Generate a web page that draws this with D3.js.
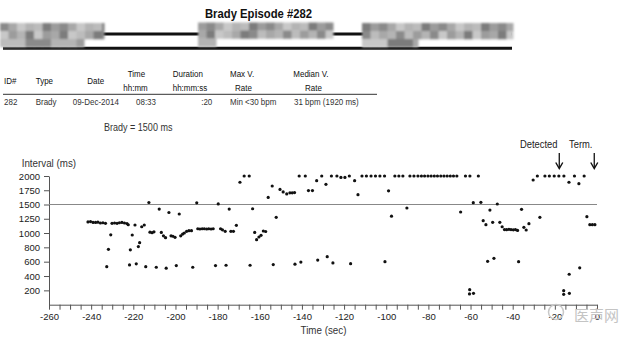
<!DOCTYPE html>
<html><head><meta charset="utf-8">
<script src="https://cdn.jsdelivr.net/npm/d3@7"></script>
<style>body{margin:0;background:#fff}svg{display:block}</style>
</head><body>
<script>
// ---------------- data ----------------
const chartTitle = "Brady Episode #282";
const tableHeaders = [["ID#"],["Type"],["Date"],["Time","hh:mm"],["Duration","hh:mm:ss"],["Max V.","Rate"],["Median V.","Rate"]];
const tableValues = ["282","Brady","09-Dec-2014","08:33",":20","Min <30 bpm","31 bpm (1920 ms)"];
const bradyLabel = "Brady = 1500 ms";
const bradyThreshold = 1500;
const yLabel = "Interval (ms)";
const xLabel = "Time (sec)";
const yTicks = [200,400,600,800,1000,1250,1500,1750,2000];
const xTicks = d3.range(-260, 1, 20);
const xMinorTicks = d3.range(-260, 1, 5);
const markerLabels = ["Detected","Term."];
const markerTimes = [-17.9, -1.3];
const watermark = "医声网";

const times = [
-241.5,-240.3,-239.1,-237.9,-236.8,-235.6,-234.4,-233.2,-232.6,-231.8,-230.7,-230.1,-228.9,-227.7,-226.6,-225.4,-224.2,-223.0,-222.4,-221.8,
-221.4,-220.5,-219.2,-218.6,-217.6,-217.0,-216.0,-214.8,-214.1,-212.6,-212.1,-211.1,-210.2,-209.1,-207.7,-206.7,-205.7,-204.7,-204.4,-203.1,
-202.1,-201.2,-200.2,-199.6,-198.2,-197.5,-196.6,-195.8,-194.7,-193.6,-192.4,-191.8,-189.9,-189.4,-188.4,-187.3,-186.3,-185.2,-184.2,-183.1,
-182.1,-181.0,-179.7,-178.6,-177.7,-176.4,-176.0,-174.5,-173.7,-172.5,-171.1,-169.4,-167.4,-165.0,-164.6,-163.4,-162.4,-161.5,-160.4,-159.4,
-158.3,-157.2,-156.0,-154.1,-153.6,-152.2,-150.4,-148.9,-147.2,-145.7,-144.6,-143.5,-143.3,-141.3,-140.5,-138.4,-136.9,-135.0,-133.0,-132.5,
-130.6,-128.6,-128.0,-126.0,-125.3,-123.4,-121.5,-119.6,-117.5,-116.9,-115.0,-113.4,-111.5,-109.4,-107.2,-105.1,-103.0,-100.8,-100.6,-98.9,
-97.5,-95.9,-94.0,-92.1,-90.2,-88.75,-86.85,-84.95,-83.3,-81.8,-80.2,-78.7,-77.2,-75.7,-74.1,-72.6,-71.1,-69.6,-68.1,-66.5,
-64.7,-62.4,-60.5,-60.4,-60.3,-58.7,-58.6,-56.3,-55.1,-54.0,-52.7,-51.9,-50.8,-49.5,-48.9,-47.3,-46.1,-45.0,-43.9,-42.9,
-41.8,-40.8,-39.7,-38.7,-37.7,-37.2,-35.8,-34.7,-33.6,-32.3,-30.3,-28.3,-27.1,-24.7,-22.6,-20.3,-18.1,-15.8,-15.8,-15.7,
-13.3,-13.2,-13.1,-10.7,-8.6,-8.2,-6.1,-4.8,-3.4,-2.2,-1.0
];
const intervals = [
1195,1200,1185,1185,1190,1175,1180,1170,530,773,975,1170,1175,1170,1180,1185,1175,1165,1145,555,
765,972,1140,570,810,865,1110,1140,530,1535,1015,1005,1020,522,1420,1010,960,935,510,1360,
960,955,940,545,1333,960,985,1000,1030,1040,1040,522,1530,1075,1070,1075,1075,1070,1075,1070,
1075,545,1510,1075,1055,1030,550,1420,1030,1030,1135,1890,2000,2000,550,1425,1010,907,944,968,
1035,1026,1625,1825,560,1275,1765,1720,1685,1705,1705,1710,565,2000,595,2000,1745,1745,1918,623,
2000,1854,670,2000,582,2000,1975,1975,2000,572,1918,1672,2000,2000,2000,2000,2000,2000,600,1740,
1295,2000,2000,2000,1439,2000,2000,2000,2000,2000,2000,2000,2000,2000,2000,2000,2000,2000,2000,2000,
1368,2000,150,210,2000,1532,158,2000,1539,1216,1146,605,1403,1188,647,1509,1188,1110,1060,1058,
1065,1060,1055,1060,1045,600,1415,1100,1053,1163,1930,2000,1275,2000,2000,2000,2000,195,145,2000,
1890,425,159,2000,1865,514,2000,1286,1146,1146,1146
];

// ---------------- drawing ----------------
const W = 640, H = 342;
const FONT = "'Liberation Sans', Arial, Helvetica, sans-serif";
const svg = d3.select("body").append("svg").attr("width", W).attr("height", H)
  .style("background", "#fff");

function label(x, y, str, o = {}) {
  return svg.append("text")
    .attr("transform", `translate(${x},${y}) scale(${o.sx || 1},1)`)
    .attr("text-anchor", o.anchor || "start")
    .attr("font-family", o.family || FONT)
    .attr("font-size", o.size || 9.3)
    .attr("font-weight", o.weight || "normal")
    .attr("fill", o.fill || "#222")
    .text(str);
}

// title
label(258.5, 17.5, chartTitle, {size: 12, weight: "bold", sx: 0.94, anchor: "middle", fill: "#111"});

// header rules
svg.append("line").attr("x1", 3).attr("x2", 512).attr("y1", 34).attr("y2", 34).attr("stroke", "#111").attr("stroke-width", 3);
svg.append("line").attr("x1", 3).attr("x2", 512).attr("y1", 48.3).attr("y2", 48.3).attr("stroke", "#111").attr("stroke-width", 3);

// blurred (pixelated) header blocks
const defs = svg.append("defs");
defs.append("filter").attr("id", "blur").attr("x", "-10%").attr("y", "-20%").attr("width", "120%").attr("height", "140%")
  .append("feGaussianBlur").attr("stdDeviation", 1.3);
const blocks = [
  {x: 0, y: 23, w: 104, rows: [104, 104, 84]},
  {x: 198, y: 22.5, w: 135, rows: [135, 135, 18]},
  {x: 362, y: 23, w: 151, rows: [151, 151, 56]}
];
const tones = ["#8a8a8a", "#b4b4b4", "#9c9c9c", "#c8c8c8", "#7c7c7c", "#a8a8a8", "#bcbcbc"];
const bg = svg.append("g").attr("filter", "url(#blur)");
blocks.forEach((b, bi) => {
  b.rows.forEach((rw, r) => {
    const cw = 8.5, ch = 8;
    const n = Math.ceil(rw / cw);
    for (let i = 0; i < n; i++) {
      const k = (i * 5 + r * 3 + bi * 2 + (i % 3) * r) % tones.length;
      bg.append("rect").attr("x", b.x + i * cw).attr("y", b.y + r * ch)
        .attr("width", Math.min(cw, rw - i * cw) + 0.5).attr("height", ch + 0.3)
        .attr("fill", tones[k]);
    }
  });
});

// table
const hdrX1 = [4, 35.7, 87.3, 127.7, 172.7, 230, 293.3];
const hdrX2 = [null, null, null, 123.3, 172.7, 235, 305];
const tOpt = {size: 9.3, sx: 0.86, fill: "#111"};
tableHeaders.forEach((h, i) => {
  if (h.length === 1) label(hdrX1[i], 84, h[0], tOpt);
  else { label(hdrX1[i], 77.3, h[0], tOpt); label(hdrX2[i], 90.7, h[1], tOpt); }
});
svg.append("line").attr("x1", 3).attr("x2", 377).attr("y1", 94.3).attr("y2", 94.3).attr("stroke", "#333").attr("stroke-width", 1);
const valX = [4, 35.7, 72.7, 136, 212.3, 230, 294];
tableValues.forEach((v, i) => label(valX[i], 104.5, v, {size: 9.3, sx: 0.86, fill: "#333", anchor: i === 4 ? "end" : "start"}));

// scales
const x = d3.scaleLinear().domain([-260, 0]).range([49, 597]);
const y = d3.scaleLinear().domain([0, 1000, 2000]).range([304.7, 233, 176]);

label(104, 131, bradyLabel, {size: 10.5, sx: 0.86, fill: "#333"});
label(21.7, 166.5, yLabel, {size: 10.2, sx: 0.96, fill: "#333"});

// y axis
const gy = svg.append("g").attr("transform", "translate(49,0)")
  .call(d3.axisLeft(y).tickValues(yTicks).tickSize(5).tickSizeOuter(0).tickPadding(4).tickFormat(d => String(d)));
gy.selectAll("path,line").attr("stroke", "#555");
gy.selectAll("text").attr("font-family", FONT).attr("font-size", 9.5).attr("fill", "#222");

// x axis
const gx = svg.append("g").attr("transform", `translate(0,${y(0)})`)
  .call(d3.axisBottom(x).tickValues(xMinorTicks).tickSize(5).tickSizeOuter(0).tickPadding(4)
    .tickFormat(d => xTicks.includes(d) ? String(d) : ""));
gx.selectAll("path,line").attr("stroke", "#555");
gx.selectAll("text").attr("font-family", FONT).attr("font-size", 9.5).attr("fill", "#222");

label(323.5, 334.3, xLabel, {size: 10.2, sx: 0.96, anchor: "middle", fill: "#333"});

// brady threshold line
svg.append("line").attr("x1", x(-260)).attr("x2", x(0)).attr("y1", y(bradyThreshold)).attr("y2", y(bradyThreshold))
  .attr("stroke", "#888").attr("stroke-width", 1.2);

// points
svg.append("g").selectAll("circle").data(times).join("circle")
  .attr("cx", (d, i) => x(d)).attr("cy", (d, i) => y(intervals[i]))
  .attr("r", 1.6).attr("fill", "#111");

// detected / term markers
const mLabelX = [520, 569];
markerTimes.forEach((t, i) => {
  label(mLabelX[i], 148.3, markerLabels[i], {size: 10, sx: 0.94, fill: "#222"});
  const ax = x(t);
  svg.append("line").attr("x1", ax).attr("x2", ax).attr("y1", 153).attr("y2", 168).attr("stroke", "#111").attr("stroke-width", 1.3);
  svg.append("path").attr("d", `M${ax - 3.5},162.5 L${ax},168.5 L${ax + 3.5},162.5`).attr("fill", "none").attr("stroke", "#111").attr("stroke-width", 1.4);
});

// watermark
svg.append("circle").attr("cx", 556).attr("cy", 312).attr("r", 7.5).attr("fill", "none").attr("stroke", "#c8c8c8").attr("stroke-width", 1.5);
label(574, 321, watermark, {size: 15, family: "'Noto Sans CJK SC', sans-serif", fill: "#c4c4c4"});
</script>
</body></html>
